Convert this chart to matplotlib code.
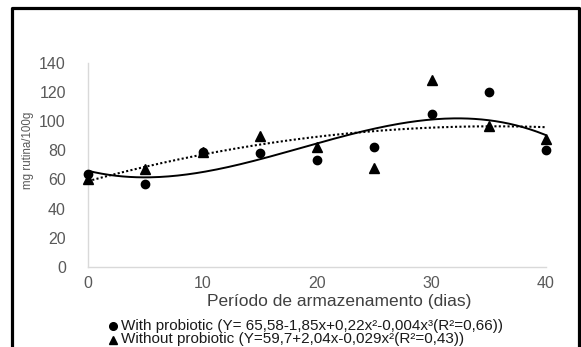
import numpy as np
import matplotlib
matplotlib.use('Agg')
import matplotlib.pyplot as plt
from matplotlib.lines import Line2D

plt.rcParams['font.family'] = ['Liberation Sans', 'DejaVu Sans']

# periodo de armazenamento (dias)
dias = [0, 5, 10, 15, 20, 25, 30, 35, 40]
com_probiotico = [64, 57, 79, 78, 73, 82, 105, 120, 80]
sem_probiotico = [60, 67, 79, 90, 82, 68, 128, 97, 88]

rotulo_com = 'With probiotic (Y= 65,58-1,85x+0,22x²-0,004x³(R²=0,66))'
rotulo_sem = 'Without probiotic (Y=59,7+2,04x-0,029x²(R²=0,43))'
y_ticks = [0, 20, 40, 60, 80, 100, 120, 140]
x_ticks = [0, 10, 20, 30, 40]

cinza = '#595959'

fig = plt.figure(figsize=(5.81, 3.47), dpi=100)
ax = fig.add_axes([0.1515, 0.2314, 0.7883, 0.587])

# linhas de tendencia (polinomio como no excel)
xx = np.linspace(0, 40, 200)
c3 = np.polyfit(dias, com_probiotico, 3)
c2 = np.polyfit(dias, sem_probiotico, 2)
ax.plot(xx, np.polyval(c3, xx), color='black', lw=1.4, zorder=2)
ax.plot(xx, np.polyval(c2, xx), color='black', lw=1.5, ls=(0, (1, 1.1)), zorder=2)

ax.plot(dias, sem_probiotico, ls='none', marker='^', ms=6.5, color='black',
        clip_on=False, zorder=3)
ax.plot(dias, com_probiotico, ls='none', marker='o', ms=6, color='black',
        clip_on=False, zorder=4)

ax.set_xlim(0, 40)
ax.set_ylim(0, 140)
ax.set_xticks(x_ticks)
ax.set_yticks(y_ticks)
ax.tick_params(length=0, labelsize=11.5, labelcolor=cinza)
ax.tick_params(axis='y', pad=16)
ax.tick_params(axis='x', pad=7)
for s in ['top', 'right']:
    ax.spines[s].set_visible(False)
for s in ['left', 'bottom']:
    ax.spines[s].set_color('#d9d9d9')
    ax.spines[s].set_linewidth(1)

fig.text(339 / 581, 1 - 306 / 347, 'Período de armazenamento (dias)',
         ha='center', va='baseline', fontsize=12.5, color='#404040')
fig.text(27.5 / 581, 1 - 150 / 347, 'mg rutina/100g', rotation=90,
         ha='center', va='center', fontsize=8.3, color=cinza)

# legenda (duas linhas bem juntas, como no original)
itens = [('o', rotulo_com, 330), ('^', rotulo_sem, 343.5)]
for marcador, rotulo, base in itens:
    fig.add_artist(Line2D([113 / 581], [1 - (base - 4) / 347], ls='none',
                          marker=marcador, ms=5.5, color='black',
                          transform=fig.transFigure))
    fig.text(121 / 581, 1 - base / 347, rotulo, ha='left', va='baseline',
             fontsize=11, color='#1a1a1a')

# moldura preta
fig.add_artist(Line2D([12 / 581, 12 / 581, 579 / 581, 579 / 581],
                      [0, 1 - 8 / 347, 1 - 8 / 347, 0],
                      transform=fig.transFigure, color='black', lw=2.3))

fig.savefig('out.png', dpi=100)
